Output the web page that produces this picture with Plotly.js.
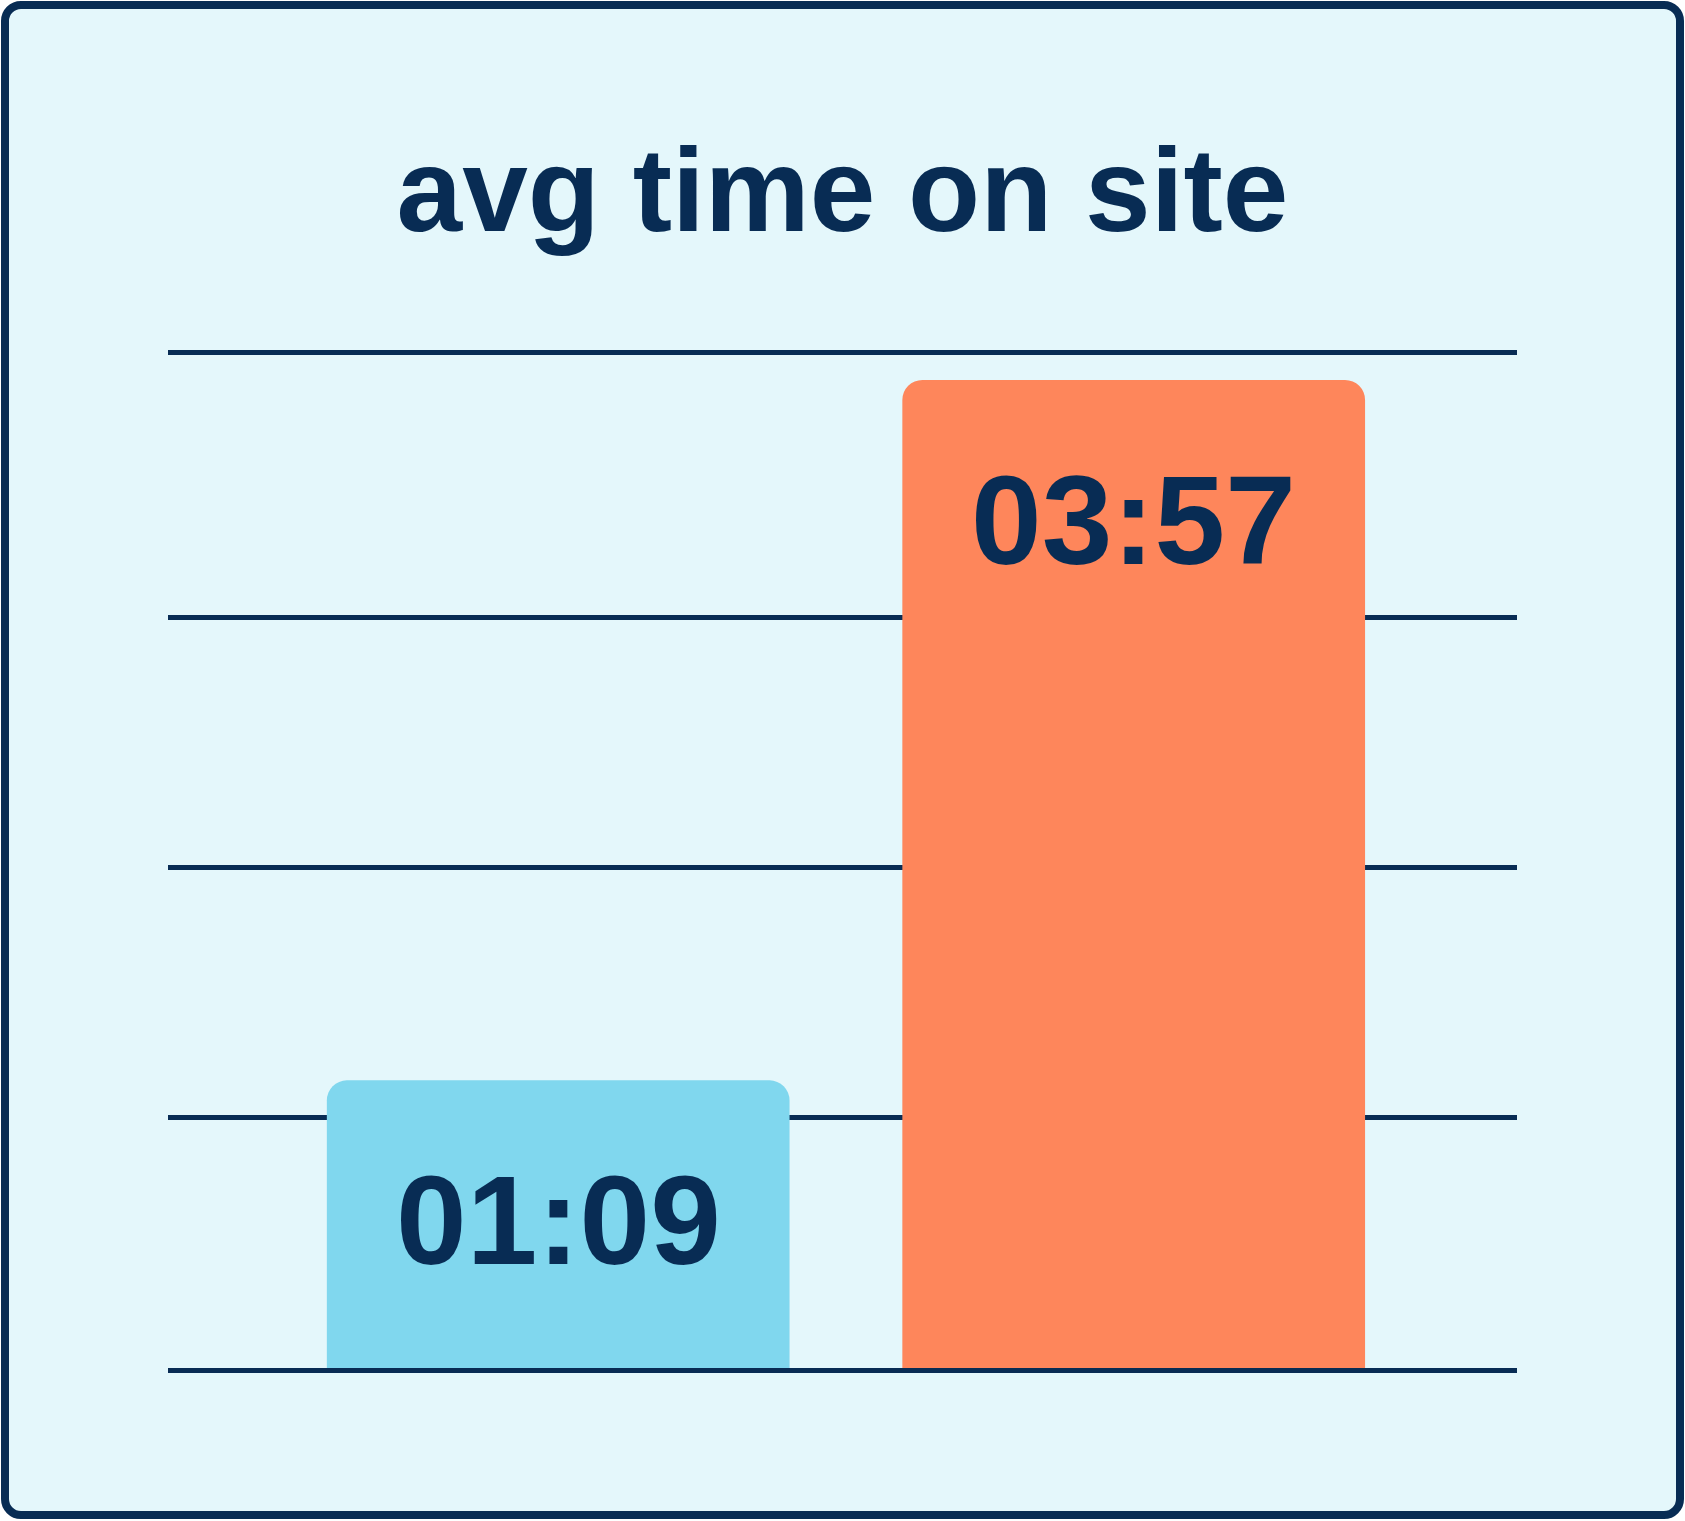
<!DOCTYPE html>
<html>
<head>
<meta charset="utf-8">
<script src="https://cdn.plot.ly/plotly-3.0.1.min.js"></script>
<style>
  html, body { margin: 0; padding: 0; background: #ffffff; }
  #frame {
    position: absolute; left: 1px; top: 1px;
    width: 1683px; height: 1518px;
    box-sizing: border-box;
    border: 8px solid #082c54;
    border-radius: 20px;
    background: #e4f7fb;
  }
  #chart { position: absolute; left: 0; top: 0; width: 1685px; height: 1521px; }
</style>
</head>
<body>
<div id="frame"></div>
<div id="chart"></div>
<script>
// chart data (seconds)
var categories = ['A', 'B'];
var seconds = [69, 237];
var labels = ['01:09', '03:57'];
var barColors = ['#80d7ee', '#fe865b'];
var gridTicks = [60, 120, 180];

var navy = '#082c54';

var trace = {
  x: categories,
  y: seconds,
  type: 'bar',
  width: 0.804,
  marker: { color: barColors, cornerradius: 20, line: { width: 0 } },
  hoverinfo: 'none'
};

// value labels hang from the top of each bar
var annots = [];
for (var i = 0; i < categories.length; i++) {
  annots.push({
    x: categories[i],
    y: seconds[i],
    xref: 'x', yref: 'y',
    text: labels[i],
    showarrow: false,
    yanchor: 'middle',
    yshift: -140,
    font: { family: 'Liberation Sans, Arial, sans-serif', size: 127, color: navy, weight: 700 }
  });
}

var layout = {
  width: 1685,
  height: 1521,
  paper_bgcolor: 'rgba(0,0,0,0)',
  plot_bgcolor: 'rgba(0,0,0,0)',
  margin: { l: 168, r: 168, t: 355, b: 153, pad: 0 },
  showlegend: false,
  hovermode: false,
  title: {
    text: '<b>avg time on site</b>',
    font: { family: 'Liberation Sans, Arial, sans-serif', size: 118, color: navy },
    x: 0.5, xanchor: 'center',
    y: 1 - 190 / 1521, yref: 'container', yanchor: 'middle'
  },
  xaxis: {
    range: [-0.678, 1.666],
    showticklabels: false,
    ticks: '',
    showgrid: false,
    zeroline: false,
    showline: true,
    mirror: true,
    linecolor: navy,
    linewidth: 5,
    fixedrange: true
  },
  yaxis: {
    range: [0, 243],
    tickvals: gridTicks,
    showticklabels: false,
    ticks: '',
    showgrid: true,
    gridcolor: navy,
    gridwidth: 5,
    zeroline: false,
    showline: false,
    fixedrange: true
  },
  annotations: annots
};

Plotly.newPlot('chart', [trace], layout, { displayModeBar: false, staticPlot: true });
</script>
</body>
</html>
